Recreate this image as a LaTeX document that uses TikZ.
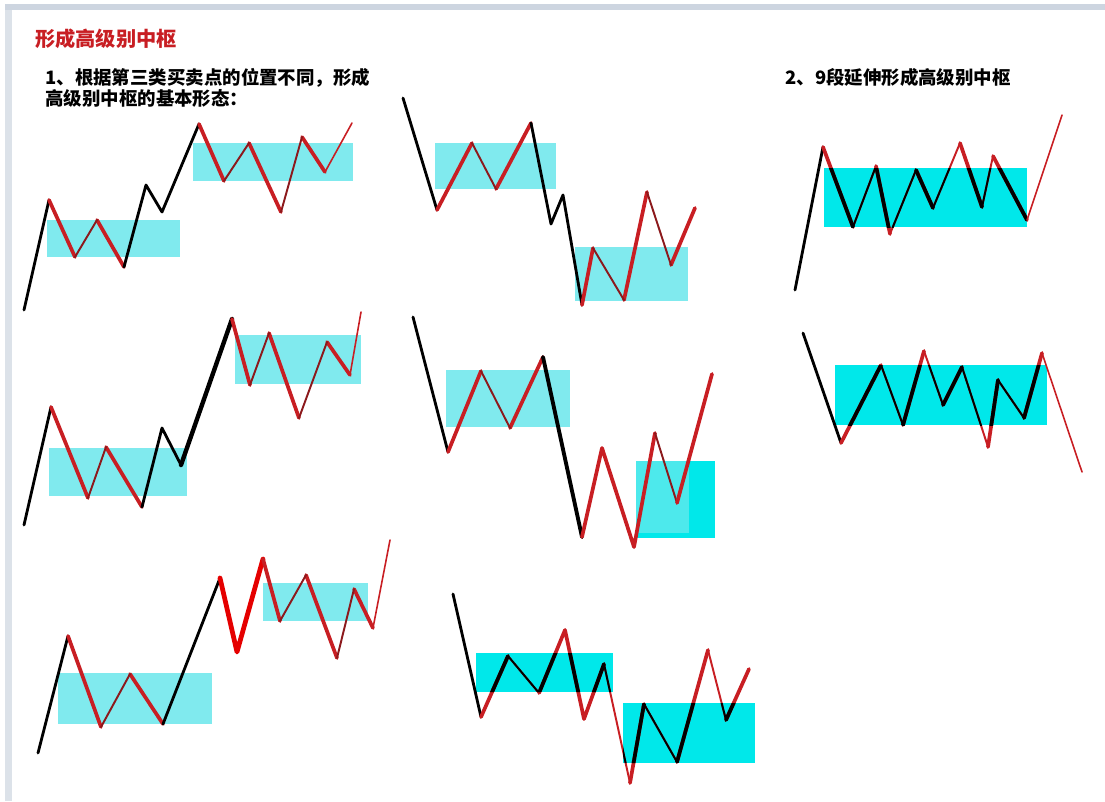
\documentclass[tikz,border=0pt]{standalone}
\usepackage{fontspec}
\newfontfamily\cjk{Noto Sans CJK SC}
\definecolor{kred}{RGB}{200,30,35}
\definecolor{kdark}{RGB}{140,25,28}
\definecolor{lightcyan}{RGB}{128,234,238}
\definecolor{fullcyan}{RGB}{0,232,234}
\definecolor{framegrey}{RGB}{205,213,224}

\begin{document}
\begin{tikzpicture}[%
x=0.02cm, y=-0.02cm,
trend/.style={black,line width=1.6pt,line cap=round,line join=round},
down/.style={kred,line width=2.1pt,line cap=round,line join=round},
up/.style={kdark,line width=1.1pt,line cap=round},
breakout/.style={kred,line width=0.9pt,line cap=round},
zhongshu/.style={fill=lightcyan},
zhongshuB/.style={fill=fullcyan},
heading/.style={anchor=west,inner sep=0pt,text=kred,font=\cjk\bfseries\fontsize{11.5}{14}\selectfont},
intro/.style={anchor=north west,inner sep=0pt,align=left,font=\cjk\bfseries\fontsize{10.5}{12.2}\selectfont}]
\useasboundingbox (0,0) rectangle (1105,801);
\fill[white] (0,0) rectangle (1105,801);
\fill[framegrey] (5,4) rectangle (1105,10);
\fill[framegrey!70] (5,10) rectangle (12,801);

\node[heading] (title) at (35,39) {形成高级别中枢};
\node[intro] (intro1) at (45,68) {1、根据第三类买卖点的位置不同，形成\\高级别中枢的基本形态：};
\node[intro] (intro2) at (785,68) {2、9段延伸形成高级别中枢};

% 上涨，第三类买点在中枢之上
\fill[zhongshu] (47,220) rectangle (180,257);
\fill[zhongshu] (193,143) rectangle (353,181);
\draw[trend] (24,310) -- (49,200);
\draw[down] (49,200) -- (75,257) (97,220) -- (124,267);
\draw[up] (75,257) -- (97,220);
\draw[trend] (124,267) -- (146,185) -- (162,212) -- (199,124);
\draw[down] (199,124) -- (224,181) (249,143) -- (281,212) (302,137) -- (325,172);
\draw[up] (224,181) -- (249,143) (281,212) -- (302,137);
\draw[breakout] (325,172) -- (352,123);

\fill[zhongshu] (49,448) rectangle (187,496);
\fill[zhongshu] (235,335) rectangle (361,384);
\draw[trend] (24,525) -- (51,407);
\draw[down] (51,407) -- (88,498) (106,447) -- (142,507);
\draw[up] (88,498) -- (106,447);
\draw[trend] (142,507) -- (162,428) -- (181,465);
\draw[trend,line width=2.5pt] (181,465) -- (232,319);
\draw[down] (232,319) -- (250,385) (269,333) -- (299,418) (327,342) -- (350,375);
\draw[up] (250,385) -- (269,333) (299,418) -- (327,342);
\draw[breakout] (350,375) -- (361,312);

\fill[zhongshu] (58,673) rectangle (212,724);
\fill[zhongshu] (263,583) rectangle (368,621);
\draw[trend] (38,753) -- (68,636);
\draw[down] (68,636) -- (101,727) (130,674) -- (163,724);
\draw[up] (101,727) -- (130,674);
\draw[trend] (163,724) -- (220,578);
\draw[down,line width=2.7pt,red!90!black] (220,578) -- (237,652) -- (263,559);
\draw[down] (263,559) -- (280,621) (306,575) -- (337,658) (354,589) -- (373,628);
\draw[up] (280,621) -- (306,575) (337,658) -- (354,589);
\draw[breakout] (373,628) -- (390,540);

% 下跌，第三类卖点在中枢之下
\fill[zhongshu] (435,143) rectangle (556,189);
\fill[zhongshu] (575,247) rectangle (688,301);
\draw[trend] (403,98) -- (437,210);
\draw[down] (437,210) -- (472,143) (496,189) -- (531,123);
\draw[up] (472,143) -- (496,189);
\draw[trend] (531,123) -- (551,224) -- (563,195) -- (582,305);
\draw[down] (582,305) -- (593,248) (624,300) -- (647,192) (671,265) -- (695,208);
\draw[up] (593,248) -- (624,300) (647,192) -- (671,265);

\fill[zhongshu] (446,370) rectangle (570,427);
\fill[zhongshuB] (636,461) rectangle (715,538);
\fill[lightcyan!60!fullcyan] (636,461) rectangle (689,533);
\draw[trend] (413,317) -- (448,452);
\draw[down] (448,452) -- (481,371) (510,428) -- (543,357);
\draw[up] (481,371) -- (510,428);
\draw[trend,line width=2.2pt] (543,357) -- (582,537);
\draw[down] (582,537) -- (602,448) -- (634,547) -- (655,433);
\draw[up] (655,433) -- (677,503);
\draw[down] (677,503) -- (712,374);

\def\downthick{(481,717) -- (508,656) (539,693) -- (565,630) -- (584,719) -- (604,664) (630,783) -- (644,704) (677,762) -- (708,650) (726,720) -- (749,669)}
\def\downthin{(508,656) -- (539,693) (604,664) -- (630,783) (644,704) -- (677,762) (708,650) -- (726,720)}
\fill[zhongshuB] (476,653) rectangle (613,692);
\fill[zhongshuB] (623,703) rectangle (755,763);
\draw[trend] (453,594) -- (481,717);
\draw[down] \downthick;
\draw[up,kred] \downthin;
\begin{scope}
\clip (476,653) rectangle (613,692) (623,703) rectangle (755,763);
\draw[down,black] \downthick;
\draw[up,black] \downthin;
\end{scope}

% 9段延伸
\def\risethick{(823,147) -- (853,227) (876,166) -- (890,234) (916,170) -- (933,208) (960,143) -- (982,207) (993,156) -- (1027,220)}
\def\risethin{(853,227) -- (876,166) (890,234) -- (916,170) (933,208) -- (960,143) (982,207) -- (993,156)}
\fill[zhongshuB] (824,168) rectangle (1027,227);
\draw[trend] (795,290) -- (823,147);
\draw[down] \risethick;
\draw[up,kred] \risethin;
\begin{scope}
\clip (824,168) rectangle (1027,227);
\draw[down,black] \risethick;
\draw[up,black] \risethin;
\end{scope}
\draw[breakout] (1027,220) -- (1062,115);

\def\fallthick{(841,443) -- (881,365) (903,425) -- (924,351) (943,405) -- (962,367) (988,447) -- (998,380) (1024,418) -- (1042,353)}
\def\fallthin{(881,365) -- (903,425) (924,351) -- (943,405) (962,367) -- (988,447) (998,380) -- (1024,418)}
\fill[zhongshuB] (835,365) rectangle (1047,425);
\draw[trend] (803,333) -- (841,443);
\draw[down] \fallthick;
\draw[up,kred] \fallthin;
\begin{scope}
\clip (835,365) rectangle (1047,425);
\draw[down,black] \fallthick;
\draw[up,black] \fallthin;
\end{scope}
\draw[breakout] (1042,353) -- (1082,472);
\end{tikzpicture}
\end{document}
